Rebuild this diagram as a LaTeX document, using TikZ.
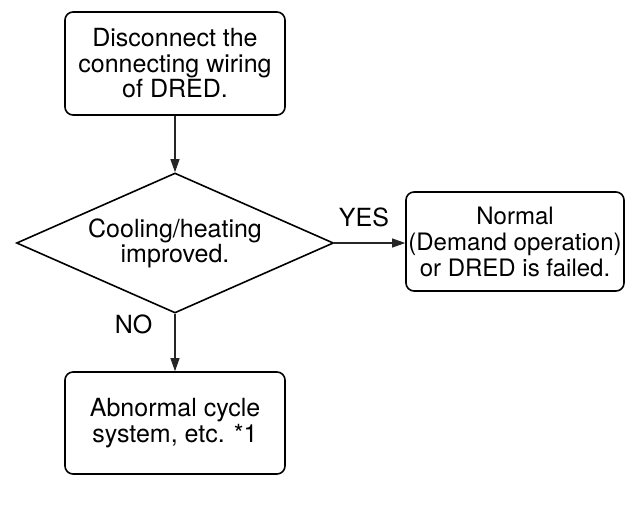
\documentclass[tikz,border=0pt]{standalone}
\usepackage{fontspec}
\setmainfont{TeX Gyre Heros}
\usetikzlibrary{shapes.geometric,arrows.meta}
\begin{document}
\begin{tikzpicture}[x=1pt,y=-1pt,
  stepbox/.style={draw=black,line width=1.6pt,rounded corners=8pt,align=center,inner sep=0pt,
    minimum width=220pt,minimum height=103pt,font=\fontsize{25}{25.5}\selectfont},
  decision/.style={draw=black,line width=1.6pt,diamond,aspect=2.26,inner sep=0pt,align=center,
    minimum width=317pt,minimum height=140pt,font=\fontsize{25}{25}\selectfont},
  flow/.style={draw=black!85,line width=1.1pt,-{Triangle[length=13pt,width=9pt]}},
  lbl/.style={font=\fontsize{25}{25}\selectfont,inner sep=0pt}]
\useasboundingbox (0,0) rectangle (628,523);
\node[stepbox] (a) at (175,63.5) {Disconnect the\\connecting wiring\\of DRED.};
\node[decision] (d) at (175,243) {Cooling/heating\\improved.};
\node[stepbox,minimum width=218pt,minimum height=99pt,font=\fontsize{24}{26}\selectfont] (n) at (515,241.5) {Normal\\(Demand operation)\\or DRED is failed.};
\node[stepbox,minimum height=102pt] (b) at (175,423) {Abnormal cycle\\system, etc. *1};
\draw[flow] (a.south) -- (d.north);
\draw[flow] (d.east) -- (n.west |- d.east);
\draw[flow] (d.south) -- (b.north);
\node[lbl] (yes) at (364,217) {YES};
\node[lbl] (no) at (133.5,324) {NO};
\end{tikzpicture}
\end{document}
